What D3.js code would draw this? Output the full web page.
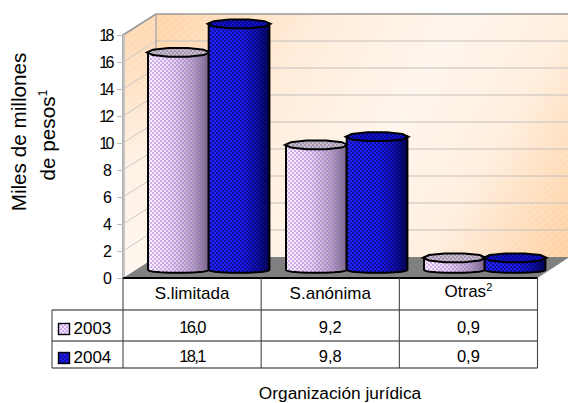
<!DOCTYPE html>
<html><head><meta charset="utf-8">
<script src="https://cdnjs.cloudflare.com/ajax/libs/d3/7.8.5/d3.min.js"></script>
<style>html,body{margin:0;padding:0;background:#fff}svg{display:block}text{font-family:"Liberation Sans",Arial,sans-serif;fill:#000}</style>
</head><body><svg id="c" width="568" height="403"></svg>
<script>
const categories = ["S.limitada","S.anónima","Otras"];
const seriesNames = ["2003","2004"];
const values2003 = [16.0,9.2,0.9];
const values2004 = [18.1,9.8,0.9];
const labels2003 = ["16,0","9,2","0,9"];
const labels2004 = ["18,1","9,8","0,9"];
const yTicks = [0,2,4,6,8,10,12,14,16,18];

const svg = d3.select("#c");
const defs = svg.append("defs");

// geometry
const X0=123, Y0=278, YTOP=35, DX=33, DY=21, XR=537.5, W=568;
const yAxis = d3.scaleLinear().domain([0,18]).range([Y0,YTOP]);
const yBar = d3.scaleLinear().domain([0,18]).range([270,25.2]);
const xCat = d3.scaleBand().domain(categories).range([139,553]);
const xSer = d3.scaleBand().domain(seriesNames).range([9,130.4]);
const xTable = d3.scaleBand().domain(categories).range([X0,XR]);

function lin(id,attrs,stops){
  const g=defs.append("linearGradient").attr("id",id).attr("gradientUnits","userSpaceOnUse");
  Object.entries(attrs).forEach(([k,v])=>g.attr(k,v));
  stops.forEach(s=>g.append("stop").attr("offset",s[0]).attr("stop-color",s[1]));
}
lin("back",{x1:156,y1:14,x2:568,y2:257},[[0,"#ffd3a6"],[.3,"#ffecd9"],[.55,"#fff5ec"],[.75,"#ffeedd"],[1,"#ffcf9f"]]);
lin("left",{x1:123,y1:40,x2:156,y2:270},[[0,"#ffd9b3"],[.5,"#fff0e2"],[1,"#fff6ee"]]);
lin("g2003",{x1:0,y1:0,x2:1,y2:0,gradientUnits:"objectBoundingBox"},[[0,"#fff6ff"],[.4,"#e6d8ee"],[.75,"#b4a6bc"],[1,"#6f6874"]]);
lin("g2004",{x1:0,y1:0,x2:1,y2:0,gradientUnits:"objectBoundingBox"},[[0,"#2424ff"],[.55,"#1c1cf4"],[.8,"#1010b0"],[1,"#04044f"]]);

function dots(id,color,op){
  const p=defs.append("pattern").attr("id",id).attr("patternUnits","userSpaceOnUse").attr("width",4).attr("height",4);
  p.append("rect").attr("width",2).attr("height",2).attr("fill",color).attr("opacity",op);
  p.append("rect").attr("x",2).attr("y",2).attr("width",2).attr("height",2).attr("fill",color).attr("opacity",op);
}
dots("d2003","#a060e0",.45);
dots("d2004","#000050",.5);
dots("dTop2003","#8a7a96",.6);
dots("dTop2004","#000070",.6);
const hatch=defs.append("pattern").attr("id","hatch").attr("patternUnits","userSpaceOnUse").attr("width",5).attr("height",5).attr("patternTransform","rotate(-40)");
hatch.append("rect").attr("width",5).attr("height",1.5).attr("fill","#ffffff").attr("opacity",.18);

// walls
const poly=(pts)=>d3.line()(pts)+"Z";
const g=svg.append("g");
const backPts=[[X0+DX,Y0-DY-243],[W,Y0-DY-243],[W,Y0-DY],[X0+DX,Y0-DY]];
const leftPts=[[X0,YTOP],[X0+DX,YTOP-DY],[X0+DX,Y0-DY],[X0,Y0]];
["back","left"].forEach(k=>{
  const pts=k==="back"?backPts:leftPts;
  g.append("path").attr("d",poly(pts)).attr("fill",`url(#${k})`);
  g.append("path").attr("d",poly(pts)).attr("fill","url(#hatch)");
});
// gridlines
yTicks.slice(1).forEach(t=>{
  const y=yAxis(t);
  if(t<18) g.append("line").attr("x1",X0+DX).attr("x2",W).attr("y1",y-DY).attr("y2",y-DY).attr("stroke","#c4c0bc").attr("stroke-width",1);
  g.append("path").attr("d",d3.line()([[X0,y],[X0+DX,y-DY]])).attr("stroke","#c8c8c8").attr("fill","none");
});
// wall edges
g.append("path").attr("d",d3.line()([[X0,Y0],[X0,YTOP],[X0+DX,YTOP-DY],[W,YTOP-DY]])).attr("fill","none").attr("stroke","#999").attr("stroke-width",1.6);
g.append("line").attr("x1",X0+DX).attr("x2",X0+DX).attr("y1",YTOP-DY).attr("y2",Y0-DY).attr("stroke","#aaa").attr("stroke-width",1.4);
g.append("line").attr("x1",X0+1).attr("x2",X0+1).attr("y1",YTOP+1).attr("y2",Y0-1).attr("stroke","#c4c4c4").attr("stroke-width",2);
// floor
g.append("path").attr("d",poly([[X0,Y0],[X0+DX,Y0-DY],[W,Y0-DY],[W,Y0-DY+1],[XR,Y0]])).attr("fill","#808080");

// axis
const ax=svg.append("g").attr("transform",`translate(${X0},0)`).call(d3.axisLeft(yAxis).tickValues(yTicks).tickSize(6).tickPadding(5));
ax.select(".domain").remove();
ax.selectAll("line").attr("stroke","#bbb");
ax.selectAll("text").attr("font-size",16).attr("font-family",'"Liberation Sans"').attr("fill","#000").attr("letter-spacing",d=>d>=10?-2.5:0);

// bars
const SEG=10;
function arc(cx,cy,rx,ry,from,to){
  return d3.range(SEG+1).map(i=>{
    const a=from+(to-from)*i/SEG;
    return [cx+rx*Math.cos(a),cy+ry*Math.sin(a)];
  });
}
const series=[{name:"2003",vals:values2003},{name:"2004",vals:values2004}];
series.forEach(s=>{
  categories.forEach((c,i)=>{
    const x=xCat(c)+xSer(s.name), w=xSer.bandwidth(), cx=x+w/2, rx=w/2;
    const yt=yBar(s.vals[i]), yb=yBar(0);
    const bottom=arc(cx,yb,rx,2.8,Math.PI,0);
    const pts=[[x,yt],[x,yb],...bottom,[x+w,yb],[x+w,yt]];
    const body=poly(pts);
    const G=svg.append("g");
    G.append("path").attr("d",body).attr("fill",`url(#g${s.name})`);
    G.append("path").attr("d",body).attr("fill",`url(#d${s.name})`);
    G.append("path").attr("d",body).attr("fill","none").attr("stroke","#000").attr("stroke-width",2).attr("stroke-linejoin","round");
    const top=poly(arc(cx,yt,rx+1,4.6,0,Math.PI*2));
    G.append("path").attr("d",top).attr("fill",s.name==="2003"?"#c9bdd0":"#1212c8");
    G.append("path").attr("d",top).attr("fill",`url(#dTop${s.name})`);
    G.append("path").attr("d",top).attr("fill","none").attr("stroke","#000").attr("stroke-width",2).attr("stroke-linejoin","miter");
  });
});

// data table
const rows=[310,341,368];
const LX=52;
const t=svg.append("g");
const L=(x1,y1,x2,y2,col,sw)=>t.append("line").attr("x1",x1).attr("y1",y1).attr("x2",x2).attr("y2",y2).attr("stroke",col).attr("stroke-width",sw);
L(X0,Y0,XR,Y0,"#000",2);
rows.forEach(y=>L(LX,y,XR,y,"#1a1a1a",1.1));
L(LX,rows[0],LX,rows[2],"#333",1);
xTable.domain().forEach(c=>L(xTable(c),Y0,xTable(c),rows[2],"#444",1.1));
L(XR,Y0,XR,rows[2],"#444",1.1);

categories.forEach((c,i)=>{
  const cx=xTable(c)+xTable.bandwidth()/2;
  const tx=t.append("text").attr("x",cx).attr("y",i===2?297:299).attr("text-anchor","middle").attr("font-size",17);
  tx.append("tspan").text(c);
  if(i===2) tx.append("tspan").attr("dy",-6).attr("font-size",11).text("2");
  t.append("text").attr("x",cx).attr("y",332.5).attr("text-anchor","middle").attr("font-size",16.5).attr("letter-spacing",i===0?-1.6:0).text(labels2003[i]);
  t.append("text").attr("x",cx).attr("y",361.5).attr("text-anchor","middle").attr("font-size",16.5).attr("letter-spacing",i===0?-1.6:0).text(labels2004[i]);
});
// legend
seriesNames.forEach((n,i)=>{
  const y=[323,352][i];
  t.append("rect").attr("x",58.5).attr("y",y+.5).attr("width",11).attr("height",11).attr("fill",n==="2003"?"#f2e4fa":"#1c1cf0").attr("stroke","#000").attr("stroke-width",1.4);
  t.append("rect").attr("x",59).attr("y",y+1).attr("width",10).attr("height",10).attr("fill",`url(#d${n})`);
  t.append("text").attr("x",73.5).attr("y",[334,363][i]).attr("font-size",17).text(n);
});

// axis titles
const yt=svg.append("g");
yt.append("text").attr("transform","translate(26,132) rotate(-90)").attr("text-anchor","middle").attr("font-size",20.7).text("Miles de millones");
const yt2=yt.append("text").attr("transform","translate(55,135) rotate(-90)").attr("text-anchor","middle").attr("font-size",20.7);
yt2.append("tspan").text("de pesos");
yt2.append("tspan").attr("dy",-8).attr("font-size",12.5).text("1");
svg.append("text").attr("x",340).attr("y",398.5).attr("text-anchor","middle").attr("font-size",17.3).text("Organización jurídica");
</script></body></html>
